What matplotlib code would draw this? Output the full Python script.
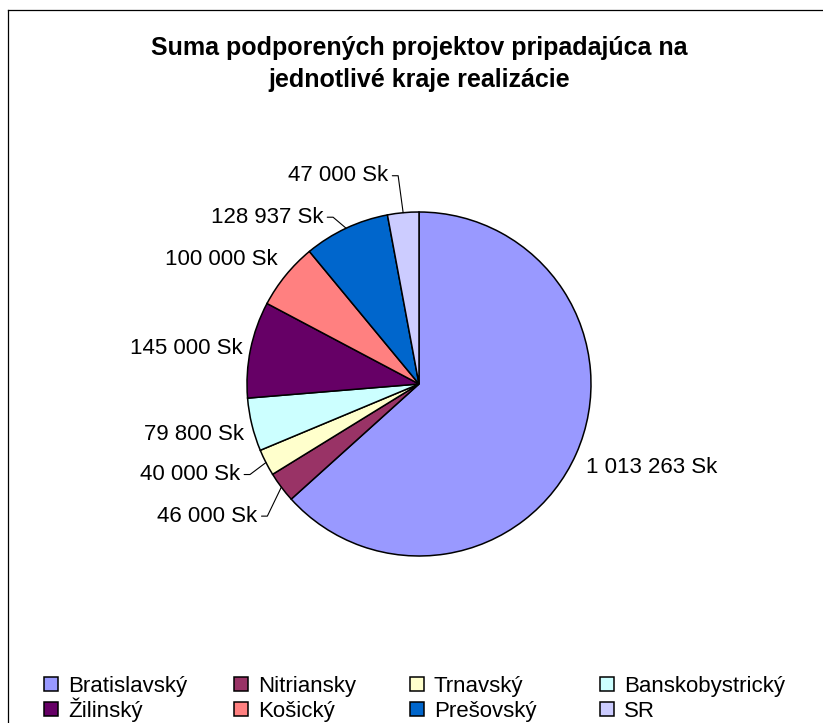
import numpy as np
import matplotlib
matplotlib.use("Agg")
import matplotlib.pyplot as plt
from matplotlib.lines import Line2D

plt.rcParams['font.family'] = ['Liberation Sans', 'DejaVu Sans']

title = "Suma podporených projektov pripadajúca na\njednotlivé kraje realizácie"
categories = ["Bratislavský", "Nitriansky", "Trnavský", "Banskobystrický",
              "Žilinský", "Košický", "Prešovský", "SR"]
values = [1013263, 46000, 40000, 79800, 145000, 100000, 128937, 47000]
value_labels = ["1 013 263 Sk", "46 000 Sk", "40 000 Sk", "79 800 Sk",
                "145 000 Sk", "100 000 Sk", "128 937 Sk", "47 000 Sk"]
colors = ["#9999FF", "#993366", "#FFFFCC", "#CCFFFF",
          "#660066", "#FF8080", "#0066CC", "#CCCCFF"]

# layout of the data labels: pixel offsets from the wedge's mid edge point
label_offsets = [(10, -14), (-24, -29), (-26, -12), (-8, -10),
                 (-8, 1), (-8, 16), (-23, 11), (-15, 37)]
label_leaders = [False, True, True, False, False, False, True, True]

W, H = 823, 723
fig = plt.figure(figsize=(W / 100, H / 100), dpi=100)
fig.patch.set_facecolor('white')

cx, cy, r = 419, 384, 172
ax = fig.add_axes([(cx - r) / W, (H - cy - r) / H, 2 * r / W, 2 * r / H])
wedges, _ = ax.pie(values, colors=colors, startangle=90, counterclock=False,
                   wedgeprops=dict(edgecolor='black', linewidth=1.1))
for w in wedges:
    w.set_clip_on(False)
ax.set_xlim(-1, 1)
ax.set_ylim(-1, 1)
ax.set_aspect('auto')
ax.axis('off')

for w, lab, (dx, dy), lead in zip(wedges, value_labels, label_offsets, label_leaders):
    mid = np.deg2rad((w.theta1 + w.theta2) / 2)
    xy = (np.cos(mid), np.sin(mid))
    ha = 'left' if dx > 0 else 'right'
    kw = {}
    if lead:
        bx, by = dx + 10, dy
        angB = np.degrees(np.arctan2(-by, -bx))
        kw['arrowprops'] = dict(arrowstyle='-', lw=0.8, color='black',
                                shrinkA=1, shrinkB=0, relpos=(1, 0.5),
                                connectionstyle=f'angle,angleA=0,angleB={angB:.2f},rad=0')
    ax.annotate(lab, xy=xy, xytext=(dx, dy), textcoords='offset pixels',
                ha=ha, va='center', fontsize=16, color='black', **kw)

fig.text(419 / W, 1 - 64 / H, title, ha='center', va='center',
         fontsize=18, fontweight='bold', linespacing=1.42)

# chart area border (top and left visible)
fig.add_artist(Line2D([8 / W, 8 / W], [0, 1 - 9.5 / H], transform=fig.transFigure,
                      color='black', lw=0.9))
fig.add_artist(Line2D([8 / W, 1], [1 - 9.5 / H, 1 - 9.5 / H], transform=fig.transFigure,
                      color='black', lw=0.9))

col_x = [44, 234, 410, 600]
row_bottom = [697, 722]
for i in range(len(categories)):
    x = col_x[i % 4]
    y = row_bottom[i // 4]
    fig.legend([wedges[i]], [categories[i]],
               loc='lower left', bbox_to_anchor=(x / W, 1 - y / H),
               frameon=False, borderpad=0, borderaxespad=0,
               handlelength=0.62, handleheight=0.62, handletextpad=0.45,
               fontsize=16)

fig.savefig('out.png', dpi=100, facecolor='white')
